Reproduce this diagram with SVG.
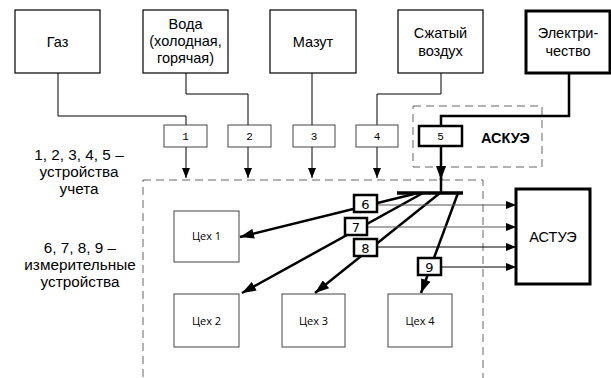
<svg xmlns="http://www.w3.org/2000/svg" width="611" height="378" viewBox="0 0 611 378">
<defs>
<style>
text{font-family:"Liberation Sans",Arial,sans-serif;fill:#000}
.src{fill:#fff;stroke:#000;stroke-width:1.2}
.thick{fill:#fff;stroke:#000;stroke-width:3}
.meter{fill:#fff;stroke:#444;stroke-width:1}
.dev{fill:#fff;stroke:#000;stroke-width:2.5}
.shop{fill:#fff;stroke:#444;stroke-width:1}
.dash{fill:none;stroke:#666;stroke-width:1;stroke-dasharray:8,5}
.ln{fill:none;stroke:#000;stroke-width:1}
.tl{fill:none;stroke:#000;stroke-width:2.5}
.gl{fill:none;stroke:#555;stroke-width:1.2}
.lbl{font-size:14.5px;text-anchor:middle}
.leg{font-size:15.3px;text-anchor:middle}
.num{font-family:"Liberation Mono","Courier New",monospace;font-size:11px;text-anchor:middle}
.dnum{font-family:"DejaVu Sans",sans-serif;font-size:13px;text-anchor:middle}
.shoptxt{font-family:"Open Sans",sans-serif;font-size:11px;text-anchor:middle}
</style>
<marker id="a" markerWidth="10" markerHeight="8" refX="10" refY="4" orient="auto" markerUnits="userSpaceOnUse"><path d="M0,0 L10,4 L0,8 Z" fill="#000"/></marker>
<marker id="b" markerWidth="14" markerHeight="10" refX="14" refY="5" orient="auto" markerUnits="userSpaceOnUse"><path d="M0,0 L14,5 L0,10 Z" fill="#000"/></marker>
</defs>

<g id="frames">
<rect class="dash" x="143" y="180" width="340" height="220"/>
<rect class="dash" x="413" y="106" width="129" height="61"/>
</g>

<g id="connectors">
<polyline class="ln" points="58,73 58,116 186,116 186,125"/>
<polyline class="ln" points="186,73 186,94 248,94 248,125"/>
<polyline class="ln" points="312,73 312,125"/>
<polyline class="ln" points="441,73 441,94 377,94 377,125"/>
<polyline class="tl" points="569,73 569,116 441,116 441,126"/>
<line class="ln" x1="186" y1="147" x2="186" y2="178" marker-end="url(#a)"/>
<line class="ln" x1="248" y1="147" x2="248" y2="178" marker-end="url(#a)"/>
<line class="ln" x1="312" y1="147" x2="312" y2="178" marker-end="url(#a)"/>
<line class="ln" x1="377" y1="147" x2="377" y2="178" marker-end="url(#a)"/>
<line class="tl" x1="441" y1="146" x2="441" y2="180" marker-end="url(#b)"/>
<line class="tl" x1="441" y1="178" x2="441" y2="193"/>
<line x1="397" y1="193" x2="463" y2="193" stroke="#000" stroke-width="3.5"/>
<line class="tl" x1="418" y1="193" x2="240" y2="237" marker-end="url(#b)"/>
<line class="tl" x1="423" y1="193" x2="242" y2="293" marker-end="url(#b)"/>
<line class="tl" x1="440" y1="193" x2="315" y2="293" marker-end="url(#b)"/>
<line class="tl" x1="458" y1="193" x2="421" y2="293" marker-end="url(#b)"/>
<line class="gl" x1="377" y1="205" x2="516" y2="205" marker-end="url(#a)"/>
<line class="gl" x1="367" y1="227" x2="516" y2="227" marker-end="url(#a)"/>
<line class="ln" x1="377" y1="247" x2="516" y2="247" marker-end="url(#a)"/>
<line class="ln" x1="441" y1="267" x2="516" y2="267" marker-end="url(#a)"/>
</g>

<g id="gas"><rect class="src" x="15" y="10" width="85" height="63"/><text class="lbl" x="57.5" y="47">Газ</text></g>
<g id="water"><rect class="src" x="143" y="10" width="85" height="63"/><text class="lbl" x="185.5" y="29">Вода</text><text class="lbl" x="185.5" y="46">(холодная,</text><text class="lbl" x="185.5" y="63">горячая)</text></g>
<g id="mazut"><rect class="src" x="270" y="10" width="86" height="63"/><text class="lbl" x="313" y="47">Мазут</text></g>
<g id="air"><rect class="src" x="398" y="10" width="85" height="63"/><text class="lbl" x="440.5" y="38">Сжатый</text><text class="lbl" x="440.5" y="56">воздух</text></g>
<g id="elec"><rect class="thick" x="526" y="11" width="84" height="62"/><text class="lbl" x="568" y="38">Электри-</text><text class="lbl" x="568" y="56">чество</text></g>

<g id="m1"><rect class="meter" x="164" y="125" width="43" height="22"/><text class="num" x="185.5" y="140">1</text></g>
<g id="m2"><rect class="meter" x="228" y="125" width="43" height="22"/><text class="num" x="249.5" y="140">2</text></g>
<g id="m3"><rect class="meter" x="293" y="125" width="42" height="22"/><text class="num" x="314" y="140">3</text></g>
<g id="m4"><rect class="meter" x="356" y="125" width="42" height="22"/><text class="num" x="377" y="140">4</text></g>
<g id="m5"><rect class="dev" x="419" y="126" width="43" height="20"/><text class="num" x="440.5" y="140">5</text></g>
<g id="askue"><text x="481" y="143" font-size="14.5" font-weight="bold">АСКУЭ</text></g>

<g id="d6"><rect class="dev" x="354" y="195" width="23" height="17"/><text class="dnum" x="365.5" y="208.5">6</text></g>
<g id="d7"><rect class="dev" x="345" y="218" width="22" height="17"/><text class="dnum" x="356" y="231.5">7</text></g>
<g id="d8"><rect class="dev" x="354" y="239" width="23" height="17"/><text class="dnum" x="365.5" y="252.5">8</text></g>
<g id="d9"><rect class="dev" x="418" y="258" width="23" height="17"/><text class="dnum" x="429.5" y="271.5">9</text></g>

<g id="astue"><rect class="thick" x="516" y="189" width="74" height="95"/><text class="lbl" x="553" y="242" font-size="15">АСТУЭ</text></g>

<g id="shop1"><rect class="shop" x="174" y="211" width="65" height="51"/><text class="shoptxt" x="206.5" y="240">Цех 1</text></g>
<g id="shop2"><rect class="shop" x="174" y="294" width="65" height="53"/><text class="shoptxt" x="206.5" y="325">Цех 2</text></g>
<g id="shop3"><rect class="shop" x="282" y="294" width="63" height="53"/><text class="shoptxt" x="313.5" y="325">Цех 3</text></g>
<g id="shop4"><rect class="shop" x="388" y="294" width="64" height="53"/><text class="shoptxt" x="420" y="325">Цех 4</text></g>

<g id="legend">
<text class="leg" x="79" y="160">1, 2, 3, 4, 5 –</text>
<text class="leg" x="79" y="177">устройства</text>
<text class="leg" x="79" y="194">учета</text>
<text class="leg" x="80" y="253">6, 7, 8, 9 –</text>
<text class="leg" x="80" y="270">измерительные</text>
<text class="leg" x="80" y="287">устройства</text>
</g>
</svg>
